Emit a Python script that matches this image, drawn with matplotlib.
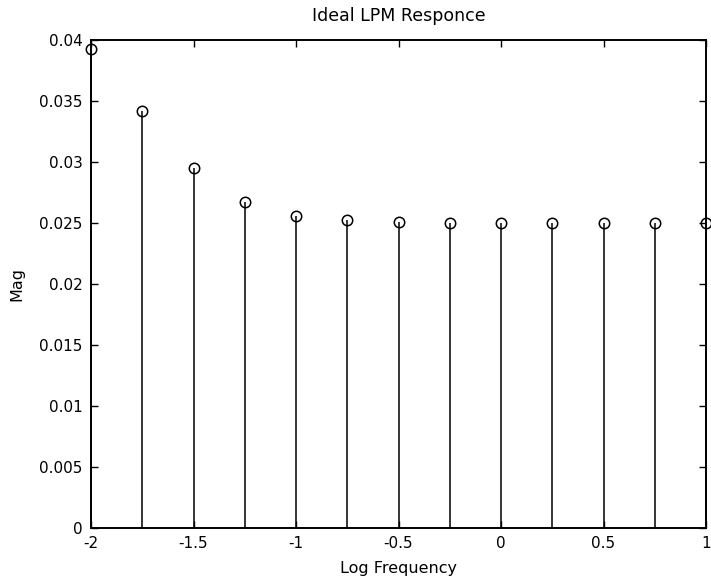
import matplotlib
matplotlib.use("Agg")
import matplotlib.pyplot as plt
import numpy as np

plt.rcParams['font.family'] = ['DejaVu Sans']

log_freq = [-2.0, -1.75, -1.5, -1.25, -1.0, -0.75, -0.5, -0.25, 0.0, 0.25, 0.5, 0.75, 1.0]
mag = [0.0393, 0.0342, 0.0295, 0.02675, 0.02557, 0.02525, 0.02508, 0.02502,
       0.0250, 0.0250, 0.0250, 0.0250, 0.0250]
xticks = [-2, -1.5, -1, -0.5, 0, 0.5, 1]
xticklabels = ['-2', '-1.5', '-1', '-0.5', '0', '0.5', '1']
yticks = [0, 0.005, 0.01, 0.015, 0.02, 0.025, 0.03, 0.035, 0.04]
yticklabels = ['0', '0.005', '0.01', '0.015', '0.02', '0.025', '0.03', '0.035', '0.04']

fig = plt.figure(figsize=(7.11, 5.84), dpi=100)
ax = fig.add_axes([91/711, 1-528/584, (706-91)/711, (528-40)/584])

ml, sl, bl = ax.stem(log_freq, mag, basefmt=' ')
plt.setp(sl, color='black', linewidth=1.1)
plt.setp(ml, marker='o', markersize=7.5, markerfacecolor='none',
         markeredgecolor='black', markeredgewidth=1.1)
ml.set_clip_on(False)
sl.set_clip_on(False)

ax.set_xlim(-2, 1)
ax.set_ylim(0, 0.04)
ax.set_xticks(xticks)
ax.set_xticklabels(xticklabels)
ax.set_yticks(yticks)
ax.set_yticklabels(yticklabels)
ax.tick_params(direction='in', top=True, right=True, length=5, width=1,
               labelsize=11, pad=6)
for sp in ax.spines.values():
    sp.set_linewidth(1.4)

ax.set_title('Ideal LPM Responce', fontsize=12.5, pad=14)
ax.set_xlabel('Log Frequency', fontsize=11.5, labelpad=7)
ax.set_ylabel('Mag', fontsize=11.5, labelpad=11)

fig.savefig('out.png', dpi=100)
